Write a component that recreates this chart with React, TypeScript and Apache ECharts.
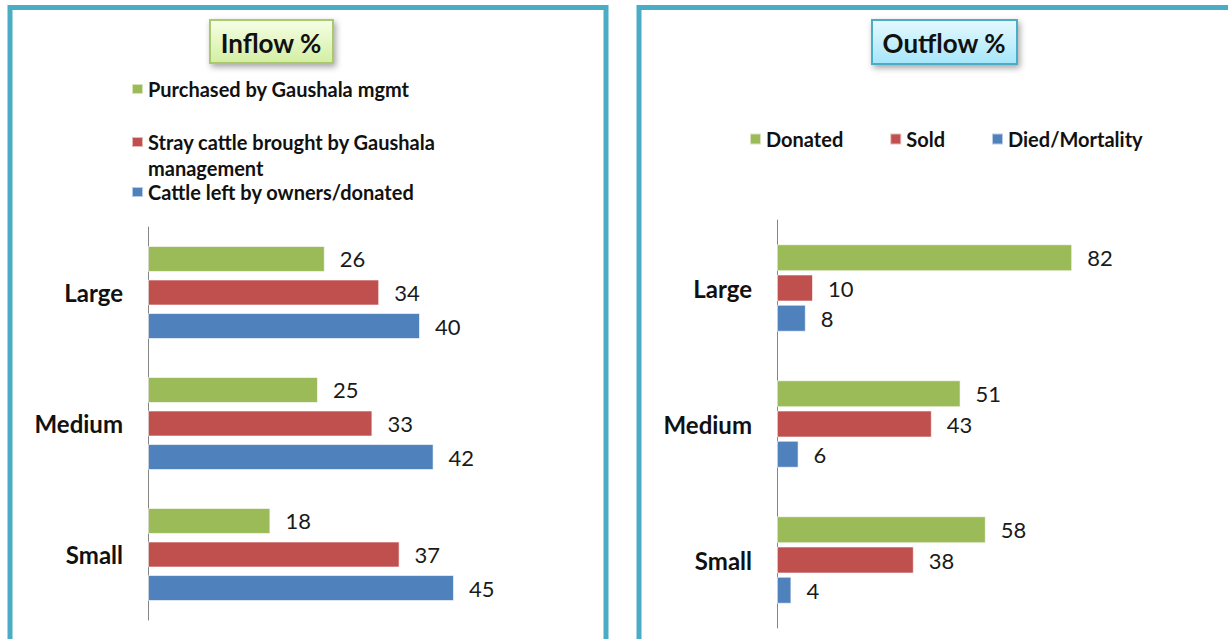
import React, { useEffect, useRef } from "react";
import * as echarts from "echarts";

const categories = ["Large", "Medium", "Small"];

const inflowNames = [
  "Purchased by Gaushala mgmt",
  "Stray cattle brought by Gaushala management",
  "Cattle left by owners/donated",
];
const inflowPurchased = [26, 25, 18];
const inflowStray = [34, 33, 37];
const inflowLeft = [40, 42, 45];

const outflowNames = ["Donated", "Sold", "Died/Mortality"];
const outflowDonated = [82, 51, 58];
const outflowSold = [10, 43, 38];
const outflowDied = [8, 6, 4];

const GREEN = "#9BBB59";
const RED = "#C0504D";
const BLUE = "#4F81BD";
const FRAME = "#4BACC6";
const FONT = "Lato, 'Open Sans', sans-serif";

export default function App() {
  const ref = useRef<HTMLDivElement>(null);

  useEffect(() => {
    if (!ref.current) return;
    const chart = echarts.init(ref.current, null, { renderer: "svg" });

    const labelStyle = {
      show: true,
      position: "right",
      distance: 15,
      fontSize: 22,
      color: "#1a1a1a",
      fontFamily: FONT,
    };

    const mkBar = (
      name: string,
      data: number[],
      color: string,
      idx: number,
      barWidth: number,
      barGap: string
    ) => ({
      type: "bar",
      name,
      data,
      xAxisIndex: idx,
      yAxisIndex: idx,
      barWidth,
      barGap,
      itemStyle: { color, borderColor: "rgba(255,255,255,0.6)", borderWidth: 1 },
      label: labelStyle,
    });

    const catAxis = (idx: number) => ({
      type: "category",
      gridIndex: idx,
      data: categories,
      inverse: true,
      axisLine: { show: true, lineStyle: { color: "#868686", width: 1 } },
      axisTick: { show: false },
      axisLabel: {
        margin: 25,
        fontSize: 24,
        fontWeight: "bold",
        color: "#111",
        fontFamily: FONT,
      },
    });

    const legendText = {
      fontSize: 20,
      fontWeight: "bold",
      color: "#111",
      fontFamily: FONT,
      lineHeight: 24,
    };

    const titleText = { fontSize: 26, fontWeight: "bold", color: "#111", fontFamily: FONT };

    chart.setOption({
      animation: false,
      backgroundColor: "#ffffff",
      title: [
        { text: "Inflow %", left: 271, top: 30, textAlign: "center", padding: 0, textStyle: titleText },
        { text: "Outflow %", left: 944, top: 30, textAlign: "center", padding: 0, textStyle: titleText },
      ],
      legend: [
        {
          data: [inflowNames[0]],
          left: 131,
          top: 77,
          padding: 0,
          itemWidth: 11,
          itemHeight: 10,
          icon: "rect",
          selectedMode: false,
          textStyle: legendText,
        },
        {
          data: [inflowNames[1]],
          left: 131,
          top: 103,
          padding: 0,
          itemWidth: 11,
          itemHeight: 10,
          icon: "rect",
          selectedMode: false,
          formatter: () => "\nStray cattle brought by Gaushala\nmanagement",
          textStyle: { ...legendText, lineHeight: 26 },
        },
        {
          data: [inflowNames[2]],
          left: 131,
          top: 180,
          padding: 0,
          itemWidth: 11,
          itemHeight: 10,
          icon: "rect",
          selectedMode: false,
          textStyle: legendText,
        },
        {
          data: outflowNames,
          left: 749,
          top: 127,
          padding: 0,
          itemWidth: 11,
          itemHeight: 11,
          itemGap: 46,
          icon: "rect",
          selectedMode: false,
          textStyle: legendText,
        },
      ],
      grid: [
        { left: 148, top: 227, width: 340, height: 393 },
        { left: 777, top: 220, width: 360, height: 408 },
      ],
      xAxis: [
        { type: "value", gridIndex: 0, min: 0, max: 50, show: false },
        { type: "value", gridIndex: 1, min: 0, max: 100, show: false },
      ],
      yAxis: [catAxis(0), catAxis(1)],
      series: [
        mkBar(inflowNames[0], inflowPurchased, GREEN, 0, 26, "29%"),
        mkBar(inflowNames[1], inflowStray, RED, 0, 26, "29%"),
        mkBar(inflowNames[2], inflowLeft, BLUE, 0, 26, "29%"),
        mkBar(outflowNames[0], outflowDonated, GREEN, 1, 27, "12%"),
        mkBar(outflowNames[1], outflowSold, RED, 1, 27, "12%"),
        mkBar(outflowNames[2], outflowDied, BLUE, 1, 27, "12%"),
      ],
      graphic: [
        {
          type: "rect",
          z: -10,
          shape: { x: 10, y: 7.5, width: 596, height: 700 },
          style: { fill: "none", stroke: FRAME, lineWidth: 5 },
          silent: true,
        },
        {
          type: "rect",
          z: -10,
          shape: { x: 639, y: 7.5, width: 700, height: 700 },
          style: { fill: "none", stroke: FRAME, lineWidth: 5 },
          silent: true,
        },
        {
          type: "rect",
          z: -5,
          shape: { x: 210, y: 20, width: 123, height: 43 },
          style: {
            fill: new echarts.graphic.LinearGradient(0, 0, 0, 1, [
              { offset: 0, color: "#f6ffe6" },
              { offset: 1, color: "#d3eea3" },
            ]),
            stroke: "#a9c96a",
            lineWidth: 2,
            shadowBlur: 6,
            shadowOffsetX: 2,
            shadowOffsetY: 3,
            shadowColor: "rgba(0,0,0,0.35)",
          },
          silent: true,
        },
        {
          type: "rect",
          z: -5,
          shape: { x: 872, y: 20, width: 145, height: 44 },
          style: {
            fill: new echarts.graphic.LinearGradient(0, 0, 0, 1, [
              { offset: 0, color: "#e6f9ff" },
              { offset: 1, color: "#a5e6fa" },
            ]),
            stroke: FRAME,
            lineWidth: 2,
            shadowBlur: 6,
            shadowOffsetX: 2,
            shadowOffsetY: 3,
            shadowColor: "rgba(0,0,0,0.35)",
          },
          silent: true,
        },
      ],
    });

    return () => chart.dispose();
  }, []);

  return (
    <div
      ref={ref}
      style={{ position: "fixed", left: 0, top: 0, width: 1228, height: 639 }}
    />
  );
}
